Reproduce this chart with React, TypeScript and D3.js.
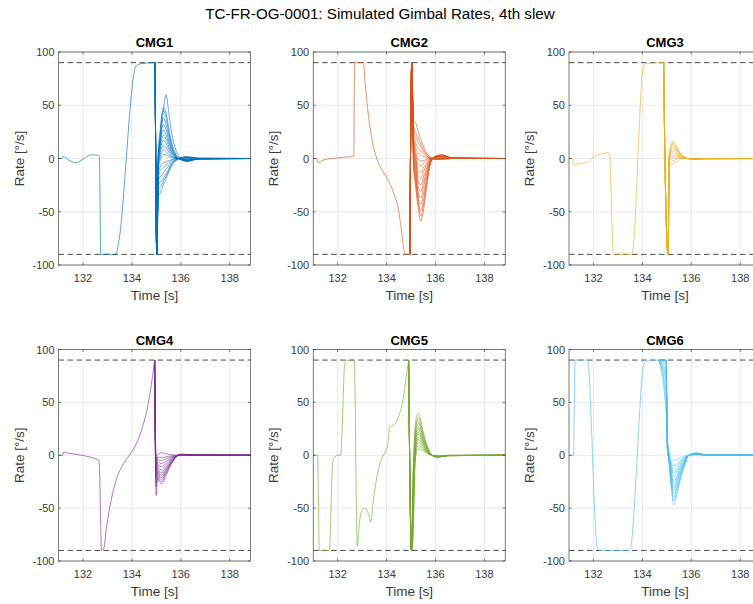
import React from 'react';
import * as d3 from 'd3';

type Pt = [number, number];

const figureTitle = 'TC-FR-OG-0001: Simulated Gimbal Rates, 4th slew';
const panelTitles = ['CMG1', 'CMG2', 'CMG3', 'CMG4', 'CMG5', 'CMG6'];
const panelColors = ['#0072BD', '#D95319', '#EDB120', '#7E2F8E', '#77AC30', '#4DBEEE'];
const xTicks = [132, 134, 136, 138];
const yTicks = [-100, -50, 0, 50, 100];
const rateLimits = [-90, 90];
const xDomain: [number, number] = [131, 138.85];
const yDomain: [number, number] = [-100, 100];
const xLabel = 'Time [s]';
const yLabel = 'Rate [°/s]';

// ---------- CMG1 ----------
const cmg1Nominal: Pt[] = [
  [131.0, 0], [131.15, 0], [131.2, 2.3], [131.3, 0.5], [131.5, -2.5], [131.72, -4], [131.95, -1.5],
  [132.2, 2.5], [132.4, 3.5], [132.62, 3], [132.67, 2], [132.73, -90], [133.35, -90], [133.45, -80],
  [134.15, 86], [134.25, 88.5], [134.6, 89.5], [134.95, 90],
];
const cmg1TailTimes = [135.02, 135.08, 135.15, 135.22, 135.3, 135.4, 135.5, 135.62, 135.8, 136.0, 136.25, 136.7, 138.85];
const cmg1Runs = [
  [-90, -8, 10, 30, 48, 60, 45, 25, 8, 0, -3, -0.5, 0],
  [-90, 0, 20, 40, 48, 42, 30, 16, 4, -1, -2.5, -0.5, 0],
  [-90, 5, 25, 40, 45, 38, 26, 13, 3, -1, -2.5, -0.5, 0],
  [-90, 3, 20, 33, 38, 32, 22, 11, 2, -1, -2, -0.5, 0],
  [-90, 2, 16, 28, 32, 27, 18, 9, 2, -1, -2, -0.3, 0],
  [-90, 0, 13, 23, 27, 22, 15, 7, 1.5, -0.8, -1.8, -0.3, 0],
  [-90, -2, 10, 18, 22, 18, 12, 6, 1, -0.6, -1.5, -0.3, 0],
  [-90, -3, 7, 14, 17, 14, 9, 4.5, 1, -0.5, -1.2, -0.2, 0],
  [-90, -5, 4, 10, 12, 10, 6.5, 3, 0.5, -0.5, -1, -0.2, 0],
  [-90, -8, 1, 6, 8, 6.5, 4, 2, 0.3, -0.3, -0.8, 0, 0],
  [-90, -10, -2, 2, 4, 3.5, 2, 1, 0, -0.2, -0.5, 0, 0],
  [-90, -14, -8, -5, -4, -3, -2, -1, 0, 0.2, 0.3, 0, 0],
  [-90, -18, -12, -10, -8, -6, -4, -2, -0.5, 0.3, 0.6, 0, 0],
  [-90, -22, -17, -16, -13, -10, -7, -3.5, -1, 0.5, 1, 0.2, 0],
  [-90, -26, -22, -21, -18, -14, -10, -5, -1.5, 0.6, 1.3, 0.2, 0],
  [-90, -30, -27, -25, -21, -17, -12, -6, -2, 0.8, 1.5, 0.2, 0],
  [-90, -34, -33, -29, -24, -19, -13, -7, -2, 1, 1.8, 0.3, 0],
];

// ---------- CMG2 ----------
const cmg2Nominal: Pt[] = [
  [131.0, 0], [131.15, 0], [131.2, -4], [131.35, -2], [131.6, -0.5], [132.0, 0.5], [132.4, 1.5],
  [132.66, 2.5], [132.69, 90], [133.05, 90], [133.12, 72], [133.25, 42], [133.4, 18], [133.6, 0],
  [133.85, -12], [134.1, -22], [134.3, -33], [134.5, -50], [134.62, -70], [134.72, -87], [134.78, -90],
  [134.95, -90],
];
const cmg2TailTimes = [135.03, 135.1, 135.2, 135.3, 135.4, 135.5, 135.62, 135.8, 136.0, 136.25, 136.7, 138.85];
const cmg2Runs = [
  [90, -5, -30, -48, -59, -50, -30, -5, 2, 3.5, 0.5, 0],
  [90, -2, -25, -43, -54, -45, -27, -4, 2, 3.5, 0.5, 0],
  [90, 0, -22, -40, -49, -40, -24, -3, 2, 3, 0.5, 0],
  [90, 3, -18, -36, -43, -34, -20, -2.5, 2, 3, 0.4, 0],
  [90, 5, -14, -32, -37, -28, -16, -2, 1.5, 2.5, 0.4, 0],
  [90, 8, -10, -27, -31, -23, -13, -1.5, 1.5, 2.2, 0.3, 0],
  [90, 10, -6, -22, -25, -18, -10, -1, 1.2, 2, 0.3, 0],
  [90, 12, -3, -17, -19, -13, -7, -0.8, 1, 1.5, 0.2, 0],
  [90, 14, 0, -12, -13, -9, -5, -0.5, 0.8, 1.2, 0.2, 0],
  [90, 16, 3, -6, -7, -5, -2.5, -0.3, 0.5, 0.8, 0.1, 0],
  [90, 18, 6, -1, -2.5, -2, -1, 0, 0.3, 0.5, 0, 0],
  [90, 20, 10, 5, 3, 2, 1, 0, 0, 0.2, 0, 0],
  [90, 24, 14, 10, 7, 4.5, 2, 0.2, -0.3, -0.3, 0, 0],
  [90, 28, 20, 15, 11, 7, 3.5, 0.5, -0.5, -0.5, 0, 0],
  [90, 32, 24, 19, 14, 9, 5, 1, -0.8, -0.6, 0, 0],
  [90, 36, 33, 25, 18, 12, 6, 1, -1, -0.8, 0, 0],
];

// ---------- CMG3 ----------
const cmg3Nominal: Pt[] = [
  [131.0, 0], [131.15, 0], [131.18, -6], [131.4, -5], [131.8, -3], [132.05, 2.5], [132.3, 4],
  [132.6, 5.5], [132.65, 5], [132.82, -90], [133.57, -90], [134.05, 87], [134.15, 89], [134.87, 90],
];
const cmg3TailTimes = [134.91, 135.05, 135.1, 135.18, 135.26, 135.35, 135.45, 135.6, 135.8, 136.1, 136.6, 138.85];
const cmg3Runs = [
  [19, -90, 5, 13, 17, 14, 9, 4, 0.5, -1, -0.3, 0],
  [19, -90, 4, 11, 15, 12, 8, 3.5, 0.4, -0.9, -0.3, 0],
  [19, -90, 3, 10, 13, 10.5, 7, 3, 0.3, -0.8, -0.2, 0],
  [19, -90, 2, 8, 11, 9, 6, 2.5, 0.2, -0.7, -0.2, 0],
  [19, -90, 1, 6.5, 9, 7.5, 5, 2, 0.2, -0.6, -0.2, 0],
  [19, -90, 0, 5, 7, 6, 4, 1.5, 0.1, -0.5, -0.1, 0],
  [19, -90, -1, 3, 5, 4.5, 3, 1, 0, -0.4, -0.1, 0],
  [19, -90, -2, 1.5, 3, 3, 2, 0.8, 0, -0.3, 0, 0],
  [19, -90, -3, 0, 1, 1.2, 1, 0.4, 0, -0.2, 0, 0],
  [19, -90, -5, -3, -2, -1, -0.3, 0, 0, 0, 0, 0],
  [19, -90, -7, -5.5, -5, -3.5, -2, -0.5, 0, 0.2, 0, 0],
];

// ---------- CMG4 ----------
const cmg4Nominal: Pt[] = [
  [131.0, 0], [131.17, 0], [131.2, 3], [131.3, 2.5], [132.63, -4.5], [132.67, -10], [132.76, -90],
  [132.84, -89], [132.97, -67], [133.1, -49], [133.3, -28], [133.58, -11], [133.85, -1.5], [134.12, 8],
  [134.4, 24], [134.67, 49], [134.84, 74], [134.93, 90],
];
const cmg4TailTimes = [134.99, 135.05, 135.12, 135.2, 135.28, 135.38, 135.5, 135.65, 135.82, 136.05, 136.5, 138.85];
const cmg4Runs = [
  [-38, -22, -25, -27, -25, -20, -14, -7, -1.5, 1, 0.3, 0],
  [-30, -20, -23, -25, -23, -18, -12.5, -6.5, -1.3, 0.9, 0.3, 0],
  [-26, -18, -21, -23, -21, -16.5, -11.5, -6, -1.2, 0.8, 0.2, 0],
  [-22, -16, -19, -21, -19, -15, -10.5, -5.5, -1, 0.8, 0.2, 0],
  [-20, -14, -17, -19, -17, -13.5, -9.5, -5, -1, 0.7, 0.2, 0],
  [-18, -12, -15, -17, -15, -12, -8.5, -4.5, -0.9, 0.6, 0.2, 0],
  [-16, -10, -12, -14, -12.5, -10, -7, -3.7, -0.8, 0.5, 0.1, 0],
  [-14, -8, -9.5, -11, -10, -8, -5.5, -3, -0.6, 0.4, 0.1, 0],
  [-12, -6, -7, -8, -7.5, -6, -4, -2.2, -0.5, 0.3, 0.1, 0],
  [-10, -4, -4.5, -5, -4.5, -3.5, -2.5, -1.4, -0.3, 0.2, 0, 0],
  [-8, -2, -2, -2, -2, -1.5, -1, -0.5, -0.1, 0.1, 0, 0],
  [-6, 0, 1.5, 2.5, 2, 1.5, 1, 0.5, 0, 0, 0, 0],
];

// ---------- CMG5 ----------
const cmg5Nominal: Pt[] = [
  [131.0, 0], [131.18, 0], [131.25, -90], [131.66, -90], [131.8, -6], [131.88, -2], [132.0, 0],
  [132.12, 0], [132.3, 88], [132.4, 89.5], [132.68, 90], [132.8, -86], [132.9, -62], [133.0, -52],
  [133.12, -50], [133.25, -55], [133.35, -63], [133.45, -45], [133.55, -28], [133.73, -8], [133.93, 3],
  [134.05, 10], [134.12, 27], [134.3, 28.5], [134.48, 36], [134.69, 55], [134.82, 77], [134.9, 90],
];
const cmg5TailTimes = [135.02, 135.08, 135.15, 135.22, 135.3, 135.4, 135.5, 135.65, 135.85, 136.1, 136.5, 138.85];
const cmg5Runs = [
  [-90, -20, 20, 36, 40, 33, 22, 10, 0, -2, -0.5, 0],
  [-90, -25, 15, 32, 36, 30, 20, 9, 0, -1.8, -0.4, 0],
  [-90, -30, 12, 29, 33, 27, 18, 8, 0, -1.7, -0.4, 0],
  [-90, -35, 8, 26, 30, 25, 16.5, 7, 0, -1.6, -0.4, 0],
  [-90, -40, 5, 23, 27, 22, 15, 6.5, 0, -1.5, -0.3, 0],
  [-90, -45, 2, 20, 25, 20.5, 13.5, 6, 0, -1.4, -0.3, 0],
  [-90, -50, 0, 17, 22, 18, 12, 5, 0, -1.2, -0.3, 0],
  [-90, -55, -3, 15, 20, 16.5, 11, 4.5, 0, -1.1, -0.2, 0],
  [-90, -60, -5, 12, 17, 14, 9.5, 4, 0, -1, -0.2, 0],
  [-90, -65, -8, 10, 15, 12.5, 8.5, 3.5, 0, -0.9, -0.2, 0],
  [-90, -70, -10, 8, 12, 10, 7, 3, 0, -0.8, -0.2, 0],
  [-90, -75, -12, 5, 9, 8, 5.5, 2.5, 0, -0.6, -0.1, 0],
  [-90, -80, -15, 2, 6, 5.5, 4, 2, 0, -0.5, -0.1, 0],
];

// ---------- CMG6 ----------
const cmg6Nominal: Pt[] = [
  [131.0, 0], [131.18, 0], [131.25, 90], [131.75, 90], [132.16, -88], [132.25, -90], [133.48, -90],
  [134.08, 87], [134.2, 89], [134.67, 90],
];
const cmg6TailTimes = [134.97, 135.02, 135.1, 135.2, 135.28, 135.38, 135.5, 135.7, 135.9, 136.2, 136.6, 138.85];
const cmg6Runs = [
  [90, 14, -10, -35, -47, -40, -28, -12, 0, 2, 0.5, 0],
  [90, 15, -8, -32, -43, -37, -26, -11, 0, 2, 0.5, 0],
  [80, 12, -8, -30, -40, -34, -24, -10, 0, 2, 0.4, 0],
  [88, 14, -6, -27, -36, -31, -22, -9, 0, 1.8, 0.4, 0],
  [70, 10, -6, -25, -33, -28, -20, -8, 0, 1.7, 0.4, 0],
  [90, 16, -4, -22, -30, -26, -18, -7.5, 0, 1.6, 0.4, 0],
  [60, 8, -5, -20, -27, -23, -16, -6.5, 0, 1.5, 0.3, 0],
  [85, 13, -2, -17, -24, -21, -14, -6, 0, 1.4, 0.3, 0],
  [50, 6, -4, -14, -20, -17, -12, -5, 0, 1.2, 0.3, 0],
  [90, 15, 0, -12, -17, -14.5, -10, -4, 0, 1, 0.2, 0],
  [75, 10, -1, -9, -13, -11, -7.5, -3, 0, 0.8, 0.2, 0],
  [40, 5, -2, -7, -10, -8.5, -6, -2.5, 0, 0.6, 0.1, 0],
  [90, 14, 2, -3, -5, -4.5, -3, -1.2, 0, 0.3, 0, 0],
];

const nominals = [cmg1Nominal, cmg2Nominal, cmg3Nominal, cmg4Nominal, cmg5Nominal, cmg6Nominal];
const tailTimes = [cmg1TailTimes, cmg2TailTimes, cmg3TailTimes, cmg4TailTimes, cmg5TailTimes, cmg6TailTimes];
const runs = [cmg1Runs, cmg2Runs, cmg3Runs, cmg4Runs, cmg5Runs, cmg6Runs];

// layout
const W = 753;
const H = 604;
const colLefts = [58.5, 313.2, 569];
const rowTops = [52, 349.5];
const panelW = 192;
const panelHs = [213, 211.5];

const FONT = 'Liberation Sans, Arial, Helvetica, sans-serif';
const AXIS_COLOR = '#262626';
const LABEL_COLOR = '#3a3a3a';

function Panel({ idx }: { idx: number }) {
  const col = idx % 3;
  const row = Math.floor(idx / 3);
  const left = colLefts[col];
  const top = rowTops[row];
  const h = panelHs[row];
  const x = d3.scaleLinear().domain(xDomain).range([left, left + panelW]);
  const y = d3.scaleLinear().domain(yDomain).range([top + h, top]);
  const line = d3
    .line<Pt>()
    .x((d) => x(d[0]))
    .y((d) => y(d[1]))
    .curve(d3.curveMonotoneX);
  const color = panelColors[idx];
  const nominal = nominals[idx];
  const last = nominal[nominal.length - 1];
  const times = tailTimes[idx];
  const clipId = `clip-${idx}`;
  const tickLen = 2.5;

  return (
    <g>
      <defs>
        <clipPath id={clipId}>
          <rect x={left} y={top} width={panelW} height={h} />
        </clipPath>
      </defs>
      <rect x={left} y={top} width={panelW} height={h} fill="#ffffff" />
      {xTicks.map((t) => (
        <line key={`gx${t}`} x1={x(t)} x2={x(t)} y1={top} y2={top + h} stroke="#e0e0e0" strokeWidth={0.7} />
      ))}
      {yTicks.map((t) => (
        <line key={`gy${t}`} x1={left} x2={left + panelW} y1={y(t)} y2={y(t)} stroke="#e0e0e0" strokeWidth={0.7} />
      ))}
      <g clipPath={`url(#${clipId})`}>
        {rateLimits.map((r) => (
          <line
            key={`lim${r}`}
            x1={left}
            x2={left + panelW}
            y1={y(r)}
            y2={y(r)}
            stroke="#4a4a4a"
            strokeWidth={1}
            strokeDasharray="5.5,3.5"
          />
        ))}
        <path d={line(nominal) || ''} fill="none" stroke={color} strokeWidth={0.75} strokeOpacity={0.85} />
        {runs[idx].map((vals, i) => {
          const pts: Pt[] = [last, ...times.map((t, k) => [t, vals[k]] as Pt)];
          return (
            <path key={i} d={line(pts) || ''} fill="none" stroke={color} strokeWidth={0.7} strokeOpacity={0.85} />
          );
        })}
      </g>
      <rect x={left} y={top} width={panelW} height={h} fill="none" stroke={AXIS_COLOR} strokeWidth={0.6} />
      {xTicks.map((t) => (
        <g key={`tx${t}`}>
          <line x1={x(t)} x2={x(t)} y1={top + h} y2={top + h - tickLen} stroke={AXIS_COLOR} strokeWidth={0.6} />
          <line x1={x(t)} x2={x(t)} y1={top} y2={top + tickLen} stroke={AXIS_COLOR} strokeWidth={0.6} />
          <text x={x(t)} y={top + h + 17} textAnchor="middle" fontFamily={FONT} fontSize={11} fill={LABEL_COLOR}>
            {t}
          </text>
        </g>
      ))}
      {yTicks.map((t) => (
        <g key={`ty${t}`}>
          <line x1={left} x2={left + tickLen} y1={y(t)} y2={y(t)} stroke={AXIS_COLOR} strokeWidth={0.6} />
          <line
            x1={left + panelW}
            x2={left + panelW - tickLen}
            y1={y(t)}
            y2={y(t)}
            stroke={AXIS_COLOR}
            strokeWidth={0.6}
          />
          <text x={left - 4} y={y(t) + 4} textAnchor="end" fontFamily={FONT} fontSize={11} fill={LABEL_COLOR}>
            {t}
          </text>
        </g>
      ))}
      <text
        x={left + panelW / 2}
        y={top - 5}
        textAnchor="middle"
        fontFamily={FONT}
        fontSize={13}
        fontWeight="bold"
        fill="#000000"
      >
        {panelTitles[idx]}
      </text>
      <text
        x={left + panelW / 2}
        y={top + h + 35}
        textAnchor="middle"
        fontFamily={FONT}
        fontSize={13.5}
        fill={LABEL_COLOR}
      >
        {xLabel}
      </text>
      <text
        transform={`translate(${left - 35},${top + h / 2}) rotate(-90)`}
        textAnchor="middle"
        fontFamily={FONT}
        fontSize={13.5}
        fill={LABEL_COLOR}
      >
        {yLabel}
      </text>
    </g>
  );
}

export default function App() {
  return (
    <svg
      width={W}
      height={H}
      viewBox={`0 0 ${W} ${H}`}
      style={{ position: 'absolute', left: 0, top: 0, background: '#ffffff' }}
    >
      <rect x={0} y={0} width={W} height={H} fill="#ffffff" />
      <text x={380} y={19} textAnchor="middle" fontFamily={FONT} fontSize={15.2} fill="#000000">
        {figureTitle}
      </text>
      {panelTitles.map((_, i) => (
        <Panel key={i} idx={i} />
      ))}
    </svg>
  );
}
